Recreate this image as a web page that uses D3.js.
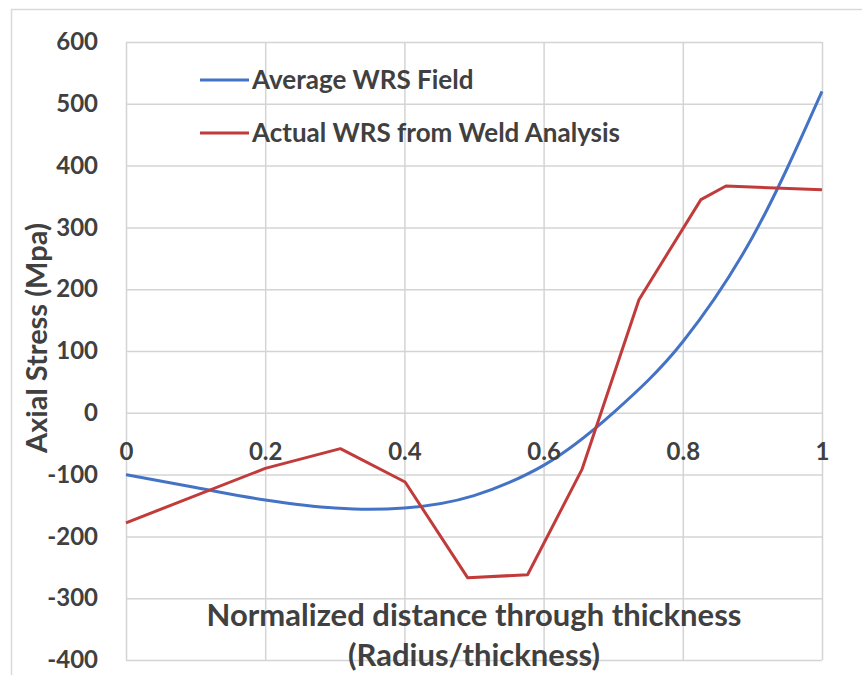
<!DOCTYPE html>
<html>
<head>
<meta charset="utf-8">
<script src="https://cdn.jsdelivr.net/npm/d3@7"></script>
<style>
  body { margin: 0; background: #fff; }
  #wrapper text { font-family: Lato, "Open Sans", sans-serif; font-weight: bold; fill: #404040; }
</style>
</head>
<body>
<div id="wrapper"></div>
<script>
// data
const xTicks = [0, 0.2, 0.4, 0.6, 0.8, 1]
const yTicks = [-400, -300, -200, -100, 0, 100, 200, 300, 400, 500, 600]

const avgX = [0, 0.1, 0.2, 0.3, 0.35, 0.4, 0.5, 0.55, 0.6, 0.7, 0.8, 0.9, 1]
const avgY = [-100, -121, -141, -154, -156, -154, -134, -113, -85, 0, 115, 284, 520]

const actX = [0, 0.2, 0.308, 0.401, 0.491, 0.577, 0.655, 0.737, 0.826, 0.862, 1]
const actY = [-178, -90, -58, -112, -267, -262, -92, 183, 345, 367, 361]

const seriesNames = ["Average WRS Field", "Actual WRS from Weld Analysis"]
const seriesColors = ["#4473c5", "#c23b3b"]

function drawChart() {
  const avgData = avgX.map((x, i) => ({ x: x, y: avgY[i] }))
  const actData = actX.map((x, i) => ({ x: x, y: actY[i] }))

  let dimensions = {
    width: 862,
    height: 675,
    margin: { top: 42, right: 40, bottom: 15, left: 126 },
  }
  dimensions.boundedWidth = dimensions.width - dimensions.margin.left - dimensions.margin.right
  dimensions.boundedHeight = dimensions.height - dimensions.margin.top - dimensions.margin.bottom

  const wrapper = d3.select("#wrapper")
    .append("svg")
      .attr("width", dimensions.width)
      .attr("height", dimensions.height)

  // outer chart frame
  wrapper.append("rect")
    .attr("x", 11.5)
    .attr("y", 9.5)
    .attr("width", 900)
    .attr("height", 700)
    .attr("fill", "none")
    .attr("stroke", "#d9d9d9")
    .attr("stroke-width", 1.5)

  const bounds = wrapper.append("g")
    .attr("transform", `translate(${dimensions.margin.left},${dimensions.margin.top})`)

  // scales
  const xScale = d3.scaleLinear()
    .domain([0, 1])
    .range([0, dimensions.boundedWidth])

  const yScale = d3.scaleLinear()
    .domain([-400, 600])
    .range([dimensions.boundedHeight, 0])

  // gridlines
  bounds.append("g")
    .attr("class", "grid")
    .call(d3.axisLeft(yScale).tickValues(yTicks).tickSize(-dimensions.boundedWidth).tickFormat(""))
    .call(g => g.select(".domain").remove())

  bounds.append("g")
    .attr("class", "grid")
    .attr("transform", `translate(0,${dimensions.boundedHeight})`)
    .call(d3.axisBottom(xScale).tickValues(xTicks).tickSize(-dimensions.boundedHeight).tickFormat(""))
    .call(g => g.select(".domain").remove())

  bounds.selectAll(".grid line")
    .attr("stroke", "#d4d4d4")
    .attr("stroke-width", 1.5)

  // lines
  const lineGenerator = d3.line()
    .x(d => xScale(d.x))
    .y(d => yScale(d.y))

  bounds.append("path")
    .datum(avgData)
    .attr("d", lineGenerator.curve(d3.curveMonotoneX))
    .attr("fill", "none")
    .attr("stroke", seriesColors[0])
    .attr("stroke-width", 3)

  bounds.append("path")
    .datum(actData)
    .attr("d", lineGenerator.curve(d3.curveLinear))
    .attr("fill", "none")
    .attr("stroke", seriesColors[1])
    .attr("stroke-width", 3)
    .attr("stroke-linejoin", "round")

  // axes (labels only), plain hyphen for negatives like the original
  const yAxis = bounds.append("g")
    .call(d3.axisLeft(yScale).tickValues(yTicks).tickSize(0).tickPadding(28)
      .tickFormat(d => String(d)))
  yAxis.select(".domain").remove()
  yAxis.selectAll("text").style("font-size", "24px")

  const xAxis = bounds.append("g")
    .attr("transform", `translate(0,${yScale(0)})`)
    .call(d3.axisBottom(xScale).tickValues(xTicks).tickSize(0).tickPadding(30)
      .tickFormat(d => String(d)))
  xAxis.select(".domain").remove()
  xAxis.selectAll("text").style("font-size", "24px")

  // axis titles
  bounds.append("text")
    .attr("x", xScale(0.5))
    .attr("y", 584)
    .attr("text-anchor", "middle")
    .style("font-size", "31px")
    .text("Normalized distance through thickness")

  bounds.append("text")
    .attr("x", xScale(0.5))
    .attr("y", 624)
    .attr("text-anchor", "middle")
    .style("font-size", "31px")
    .text("(Radius/thickness)")

  wrapper.append("text")
    .attr("transform", "translate(47,338) rotate(-90)")
    .attr("text-anchor", "middle")
    .style("font-size", "29px")
    .text("Axial Stress (Mpa)")

  // legend
  const legend = wrapper.append("g")
    .attr("transform", "translate(200,80)")

  const items = legend.selectAll("g")
    .data(seriesNames)
    .join("g")
      .attr("transform", (d, i) => `translate(0,${i * 53})`)

  items.append("line")
    .attr("x1", 0)
    .attr("x2", 49)
    .attr("stroke", (d, i) => seriesColors[i])
    .attr("stroke-width", 3)

  items.append("text")
    .attr("x", 52)
    .attr("dy", "0.36em")
    .style("font-size", "26px")
    .text(d => d)
}

drawChart()
</script>
</body>
</html>
